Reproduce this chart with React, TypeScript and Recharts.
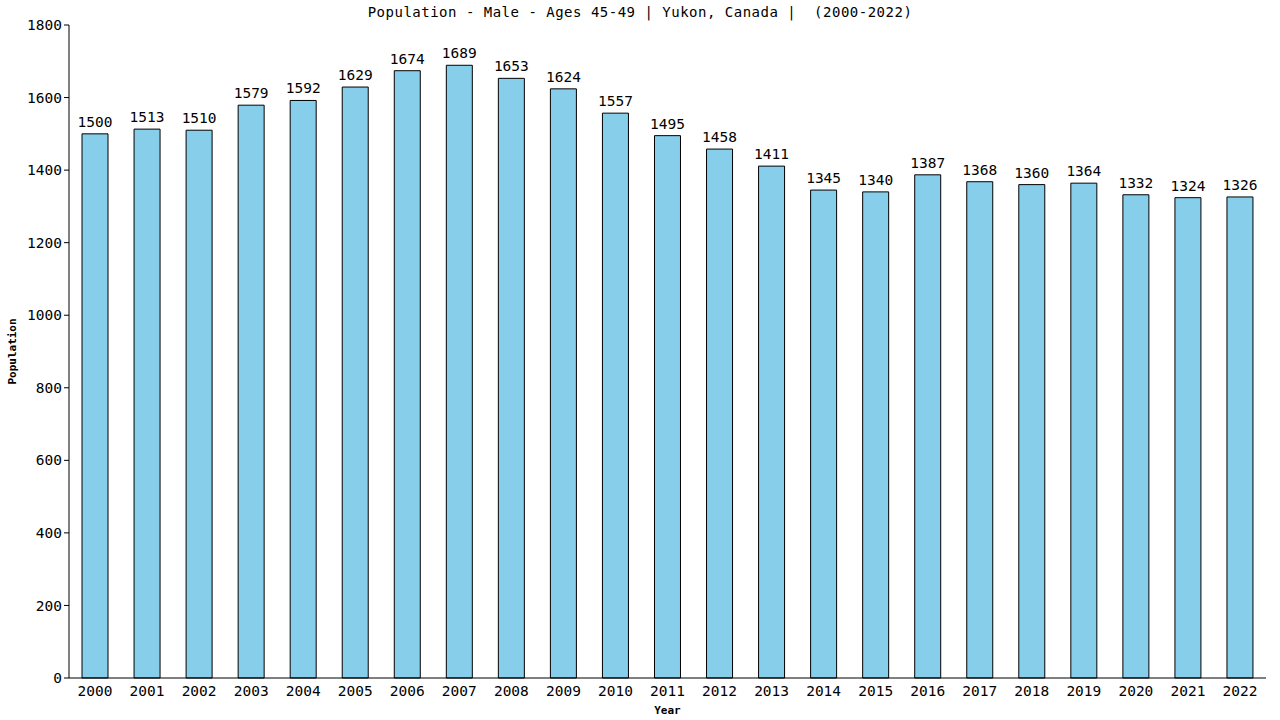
import { BarChart, Bar, XAxis, YAxis, LabelList } from 'recharts';

const years = [
  '2000', '2001', '2002', '2003', '2004', '2005', '2006', '2007', '2008', '2009', '2010', '2011',
  '2012', '2013', '2014', '2015', '2016', '2017', '2018', '2019', '2020', '2021', '2022',
];
const population = [
  1500, 1513, 1510, 1579, 1592, 1629, 1674, 1689, 1653, 1624, 1557, 1495,
  1458, 1411, 1345, 1340, 1387, 1368, 1360, 1364, 1332, 1324, 1326,
];
const yTicks = [0, 200, 400, 600, 800, 1000, 1200, 1400, 1600, 1800];

const font = '"DejaVu Sans Mono", monospace';

export default function App() {
  const data = years.map((year, i) => ({ year, value: population[i] }));

  return (
    <div style={{ position: 'absolute', left: 0, top: 0, width: 1280, height: 720, background: '#fff', fontFamily: font }}>
      <div
        style={{
          position: 'absolute',
          top: 4,
          left: 0,
          width: 1280,
          textAlign: 'center',
          fontSize: 14,
          color: '#000',
          whiteSpace: 'pre',
          letterSpacing: 0.5,
        }}
      >
        {'Population - Male - Ages 45-49 | Yukon, Canada |  (2000-2022)'}
      </div>
      <BarChart
        width={1280}
        height={720}
        data={data}
        margin={{ top: 25, right: 14, bottom: 0, left: 0 }}
        barCategoryGap="25%"
      >
        <XAxis
          dataKey="year"
          height={42}
          tickLine={false}
          axisLine={{ stroke: '#000' }}
          tick={{ fill: '#000', fontSize: 14.5, fontFamily: font }}
          tickMargin={2}
          interval={0}
          label={{ value: 'Year', position: 'insideBottom', offset: 6, fill: '#000', fontSize: 11, fontWeight: 'bold', fontFamily: font }}
        />
        <YAxis
          yAxisId="left"
          width={69}
          domain={[0, 1800]}
          ticks={yTicks}
          interval={0}
          axisLine={{ stroke: '#000' }}
          tickLine={{ stroke: '#000' }}
          tickSize={5}
          tick={{ fill: '#000', fontSize: 14.5, fontFamily: font }}
          label={{ value: 'Population', angle: -90, position: 'insideLeft', offset: 12, fill: '#000', fontSize: 11, fontWeight: 'bold', fontFamily: font, style: { textAnchor: 'middle' } }}
        />
        <YAxis
          yAxisId="right"
          orientation="right"
          width={0}
          domain={[0, 1800]}
          tick={false}
          tickLine={false}
          axisLine={{ stroke: '#000' }}
        />
        <Bar yAxisId="left" dataKey="value" fill="#87CEEB" stroke="#000" strokeWidth={1} isAnimationActive={false}>
          <LabelList dataKey="value" position="top" offset={7} fill="#000" fontSize={14.5} fontFamily={font} />
        </Bar>
      </BarChart>
    </div>
  );
}
